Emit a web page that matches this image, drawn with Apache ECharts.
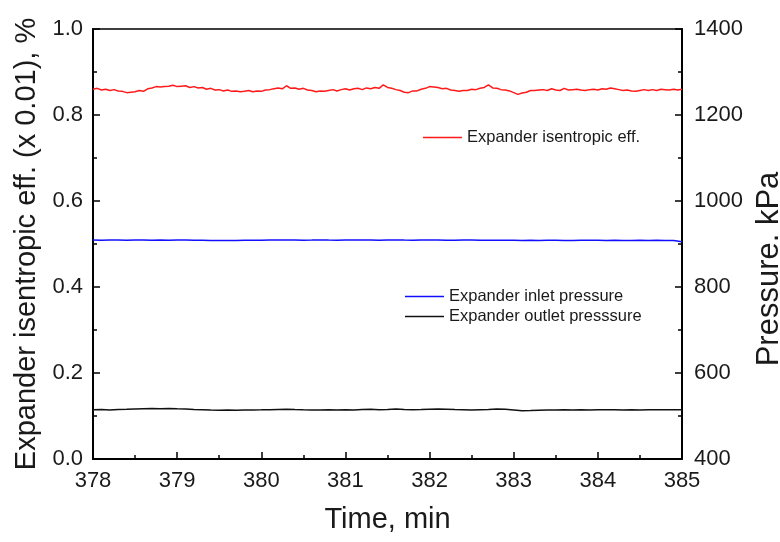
<!DOCTYPE html>
<html>
<head>
<meta charset="utf-8">
<script src="https://cdn.jsdelivr.net/npm/echarts@6/dist/echarts.min.js"></script>
<style>html,body{margin:0;padding:0;background:#fff;}#c{width:780px;height:542px;}</style>
</head>
<body>
<div id="c"></div>
<script>
// Time sampling (min)
const effStart = 378, effStep = 0.05;
const presStart = 378, presStep = 0.1;

// Expander isentropic efficiency (x 0.01, %)
const effValues = [
0.860,0.862,0.858,0.860,0.857,0.859,0.856,0.855,0.852,0.853,0.854,0.857,0.855,0.861,0.863,0.866,0.865,0.866,0.867,0.869,
0.866,0.867,0.868,0.864,0.866,0.863,0.864,0.860,0.862,0.858,0.859,0.856,0.858,0.855,0.856,0.854,0.855,0.857,0.854,0.856,
0.855,0.858,0.859,0.861,0.863,0.861,0.868,0.862,0.863,0.860,0.862,0.858,0.857,0.854,0.856,0.855,0.857,0.859,0.856,0.859,
0.861,0.858,0.861,0.862,0.859,0.863,0.861,0.864,0.862,0.870,0.864,0.862,0.859,0.857,0.853,0.852,0.856,0.856,0.860,0.862,
0.866,0.865,0.864,0.861,0.862,0.858,0.857,0.855,0.857,0.857,0.860,0.859,0.862,0.864,0.870,0.863,0.862,0.859,0.858,0.856,
0.852,0.848,0.851,0.853,0.857,0.857,0.858,0.859,0.857,0.861,0.858,0.857,0.862,0.858,0.859,0.860,0.858,0.857,0.859,0.860,
0.858,0.861,0.860,0.863,0.861,0.859,0.857,0.858,0.856,0.855,0.857,0.859,0.857,0.859,0.857,0.860,0.859,0.858,0.860,0.858,
0.860
];

// Expander inlet pressure (kPa)
const inletValues = [
909.2,909.0,909.4,909.1,908.8,909.3,909.5,909.0,909.2,908.9,
909.1,909.3,908.7,908.5,908.2,908.4,908.0,908.3,908.6,908.9,
909.0,909.2,909.4,909.1,909.3,909.0,909.2,909.5,909.1,909.0,
909.2,909.4,909.1,909.3,909.0,909.2,909.3,909.1,909.0,909.2,
909.1,909.3,909.0,908.9,909.2,909.1,908.8,908.6,908.9,908.7,
908.5,908.3,908.6,908.4,908.7,908.5,908.2,908.4,908.6,908.5,
908.6,908.3,908.5,908.1,908.4,908.6,908.2,908.5,908.3,908.0,
905.5
];

// Expander outlet pressure (kPa)
const outletValues = [
514.5,515.0,514.2,515.3,515.8,516.4,516.9,517.2,516.8,517.5,
516.6,516.0,515.2,514.6,513.8,513.5,514.0,513.6,514.2,513.9,
514.3,514.8,515.4,515.9,515.1,514.6,514.2,513.8,514.5,514.0,
514.6,514.2,515.0,515.5,514.8,515.3,516.0,515.2,514.6,515.0,
515.8,516.2,515.6,515.0,514.6,514.2,514.8,515.4,516.3,515.5,
514.1,512.4,512.9,513.6,514.2,513.9,514.5,514.0,514.4,514.1,
514.6,514.3,514.8,514.2,514.5,514.0,514.4,514.7,514.3,514.5,
514.4
];

const seriesNames = ['Expander isentropic eff.', 'Expander inlet pressure', 'Expander outlet presssure'];
const xTitle = 'Time, min';
const yLeftTitle = 'Expander isentropic eff. (x 0.01), %';
const yRightTitle = 'Pressure. kPa';

const toPairs = (start, step, vals) => vals.map((v, i) => [+(start + i * step).toFixed(3), v]);

const font = 'Liberation Sans, Arial, sans-serif';
const txt = '#1a1a1a';

const chart = echarts.init(document.getElementById('c'), null, {renderer: 'canvas'});
chart.setOption({
  animation: false,
  backgroundColor: '#fff',
  grid: {left: 93, right: 98, top: 29, bottom: 83, containLabel: false, outerBoundsMode: 'none',
         show: true, borderColor: '#000', borderWidth: 1.5, backgroundColor: 'transparent'},
  legend: [
    {data: [seriesNames[0]], left: 418, top: 124, icon: 'rect', itemWidth: 39, itemHeight: 1.5, itemGap: 3,
     textStyle: {fontFamily: font, fontSize: 16.5, color: txt}},
    {data: [seriesNames[1], seriesNames[2]], left: 400, top: 283, orient: 'vertical', icon: 'rect', itemWidth: 39, itemHeight: 1.5, itemGap: 3,
     textStyle: {fontFamily: font, fontSize: 16.5, color: txt}}
  ],
  xAxis: {
    type: 'value', min: 378, max: 385, interval: 1,
    name: xTitle, nameLocation: 'middle', nameGap: 46,
    nameTextStyle: {fontFamily: font, fontSize: 29, color: txt},
    axisLine: {show: true, lineStyle: {color: '#000', width: 2}},
    axisTick: {show: true, inside: true, length: 7, lineStyle: {color: '#000', width: 1.5}},
    minorTick: {show: true, splitNumber: 2, length: 4, lineStyle: {color: '#000', width: 1.5}},
    axisLabel: {fontFamily: font, fontSize: 22, color: txt, margin: 11},
    splitLine: {show: false}
  },
  yAxis: [
    {
      type: 'value', min: 0, max: 1, interval: 0.2, position: 'left',
      name: yLeftTitle, nameLocation: 'middle', nameGap: 49, nameRotate: 90,
      nameTextStyle: {fontFamily: font, fontSize: 29, color: txt},
      axisLine: {show: true, lineStyle: {color: '#000', width: 2}},
      axisTick: {show: true, inside: true, length: 7, lineStyle: {color: '#000', width: 1.5}},
      minorTick: {show: true, splitNumber: 2, length: 4, lineStyle: {color: '#000', width: 1.5}},
      axisLabel: {fontFamily: font, fontSize: 22, color: txt, margin: 10, formatter: v => v.toFixed(1)},
      splitLine: {show: false}
    },
    {
      type: 'value', min: 400, max: 1400, interval: 200, position: 'right',
      name: yRightTitle, nameLocation: 'middle', nameGap: 68, nameRotate: 90,
      nameTextStyle: {fontFamily: font, fontSize: 31, color: txt, padding: [0, 50, 0, 0]},
      axisLine: {show: true, lineStyle: {color: '#000', width: 2}},
      axisTick: {show: true, inside: true, length: 7, lineStyle: {color: '#000', width: 1.5}},
      minorTick: {show: true, splitNumber: 2, length: 4, lineStyle: {color: '#000', width: 1.5}},
      axisLabel: {fontFamily: font, fontSize: 22, color: txt, margin: 12, formatter: v => String(v)},
      splitLine: {show: false}
    }
  ],
  series: [
    {name: seriesNames[0], type: 'line', yAxisIndex: 0, data: toPairs(effStart, effStep, effValues),
     symbol: 'none', color: '#ff1a1a', lineStyle: {width: 1.5, color: '#ff1a1a'}},
    {name: seriesNames[1], type: 'line', yAxisIndex: 1, data: toPairs(presStart, presStep, inletValues),
     symbol: 'none', color: '#1010ff', lineStyle: {width: 1.5, color: '#1010ff'}},
    {name: seriesNames[2], type: 'line', yAxisIndex: 1, data: toPairs(presStart, presStep, outletValues),
     symbol: 'none', color: '#111', lineStyle: {width: 1.5, color: '#111'}}
  ]
});
</script>
</body>
</html>
